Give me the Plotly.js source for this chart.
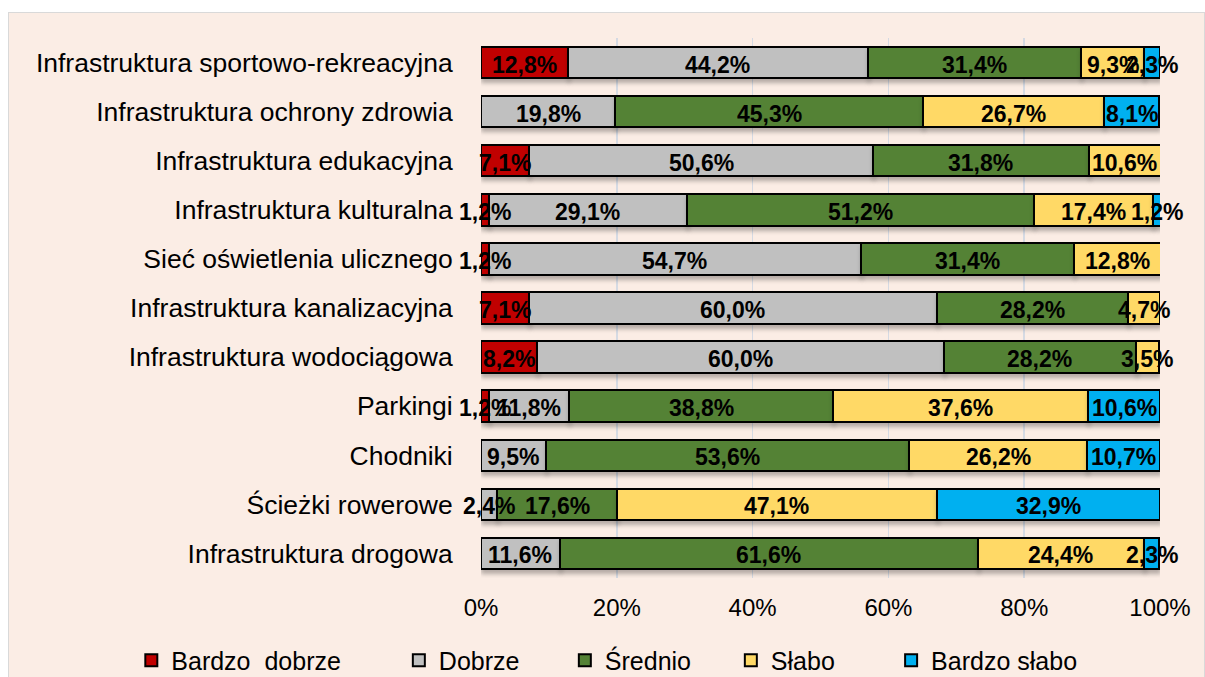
<!DOCTYPE html>
<html><head><meta charset="utf-8">
<script src="https://cdn.plot.ly/plotly-3.0.1.min.js"></script>
<style>
html,body{margin:0;padding:0;background:#ffffff;overflow:hidden;}
#chart{position:absolute;left:8px;top:12px;width:1195px;height:700px;border:1px solid #D9D9D9;}
#chart .barlayer .trace.bars{filter:drop-shadow(1px 4px 2px rgba(0,0,0,0.28));}
</style></head>
<body><div id="chart"></div>
<script>
// categories listed top to bottom as in the picture
const categories = [
  "Infrastruktura sportowo-rekreacyjna",
  "Infrastruktura ochrony zdrowia",
  "Infrastruktura edukacyjna",
  "Infrastruktura kulturalna",
  "Sieć oświetlenia ulicznego",
  "Infrastruktura kanalizacyjna",
  "Infrastruktura wodociągowa",
  "Parkingi",
  "Chodniki",
  "Ścieżki rowerowe",
  "Infrastruktura drogowa"
];
const seriesNames = ["Bardzo  dobrze", "Dobrze", "Średnio", "Słabo", "Bardzo słabo"];
const bardzoDobrze = [12.8, 0,    7.1,  1.2,  1.2,  7.1,  8.2,  1.2,  0,    0,    0];
const dobrze       = [44.2, 19.8, 50.6, 29.1, 54.7, 60.0, 60.0, 11.8, 9.5,  2.4,  11.6];
const srednio      = [31.4, 45.3, 31.8, 51.2, 31.4, 28.2, 28.2, 38.8, 53.6, 17.6, 61.6];
const slabo        = [9.3,  26.7, 10.6, 17.4, 12.8, 4.7,  3.5,  37.6, 26.2, 47.1, 24.4];
const bardzoSlabo  = [2.3,  8.1,  0,    1.2,  0,    0,    0,    10.6, 10.7, 32.9, 2.3];
const xTickVals = [0, 20, 40, 60, 80, 100];

const colors = ["#C00000", "#C0C0C0", "#548235", "#FFD966", "#00B0F0"];
const allSeries = [bardzoDobrze, dobrze, srednio, slabo, bardzoSlabo];
const legendOf = ['legend', 'legend2', 'legend2', 'legend2', 'legend3'];
const FONT = 'Liberation Sans, Arial, sans-serif';

const fmt = v => v > 0 ? v.toFixed(1).replace('.', ',') + '%' : '';

const traces = allSeries.map((vals, i) => ({
  type: 'bar',
  orientation: 'h',
  name: seriesNames[i],
  y: categories,
  x: vals.map(v => v > 0 ? v : null),
  textposition: 'none',
  marker: {color: colors[i], line: {color: '#000000', width: 2}},
  hoverinfo: 'none',
  legend: legendOf[i]
}));

// value labels centred on each segment, drawn above all bars
const annotations = [];
categories.forEach((c, r) => {
  let cum = 0;
  allSeries.forEach(vals => {
    const v = vals[r];
    if (v > 0) {
      annotations.push({
        x: cum + v / 2, y: c, xref: 'x', yref: 'y', text: fmt(v),
        showarrow: false, yshift: -2, xanchor: 'center', yanchor: 'middle',
        font: {family: FONT, size: 23, color: '#000000', weight: 'bold'}
      });
    }
    cum += v;
  });
});

const legBase = {
  orientation: 'h', xanchor: 'left', y: -0.153, yanchor: 'middle',
  font: {size: 25}, bgcolor: 'rgba(0,0,0,0)', traceorder: 'normal'
};

const layout = {
  width: 1195, height: 700,
  paper_bgcolor: '#FBEDE5',
  plot_bgcolor: 'rgba(0,0,0,0)',
  barmode: 'stack',
  bargap: 0.36,
  margin: {l: 472, r: 44, t: 25, b: 135},
  font: {family: FONT, color: '#000000'},
  annotations: annotations,
  xaxis: {
    range: [0, 100],
    tickvals: xTickVals,
    ticktext: xTickVals.map(v => v + '%'),
    showgrid: true, gridcolor: '#D5DAE3', gridwidth: 1.5,
    zeroline: false, showline: false,
    ticks: 'outside', ticklen: 8, tickcolor: 'rgba(0,0,0,0)',
    tickfont: {size: 24}, fixedrange: true
  },
  yaxis: {
    categoryorder: 'array',
    categoryarray: categories.slice().reverse(),
    showgrid: false, zeroline: false, showline: false,
    ticks: 'outside', ticklen: 22, tickcolor: 'rgba(0,0,0,0)',
    tickfont: {size: 26.5}, fixedrange: true
  },
  showlegend: true,
  legend: Object.assign({}, legBase, {x: -0.515}),
  legend2: Object.assign({}, legBase, {x: -0.121, entrywidth: 121}),
  legend3: Object.assign({}, legBase, {x: 0.604})
};

Plotly.newPlot('chart', traces, layout, {displayModeBar: false, staticPlot: true});
</script></body></html>
